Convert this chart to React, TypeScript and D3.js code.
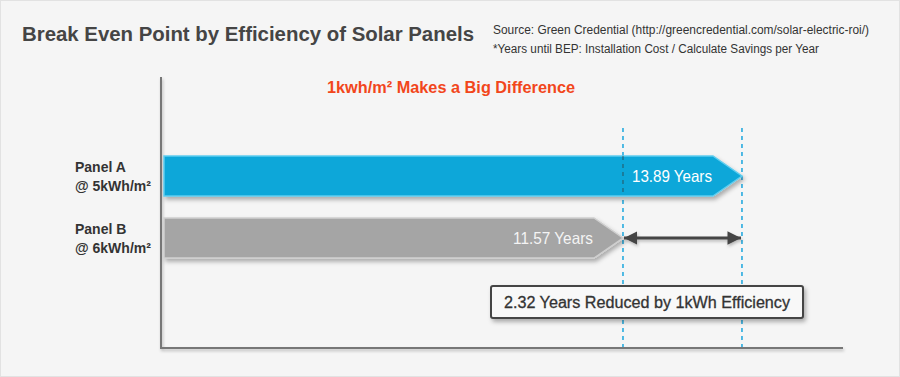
import React from "react";
import * as d3 from "d3";

const panels = ["Panel A", "Panel B"];
const efficiencies = ["@ 5kWh/m²", "@ 6kWh/m²"];
const years = [13.89, 11.57];
const barColors = ["#0ba7d9", "#a5a5a5"];
const barStrokes = ["#5fcdef", "#cfcfcf"];
const labelColors = ["#ffffff", "#f4f4f4"];
const title = "Break Even Point by Efficiency of Solar Panels";
const sourceLines = [
  "Source: Green Credential (http://greencredential.com/solar-electric-roi/)",
  "*Years until BEP: Installation Cost / Calculate Savings per Year",
];
const subtitle = "1kwh/m² Makes a Big Difference";

const W = 900;
const H = 377;

export default function App() {
  const x = d3.scaleLinear().domain([2.62, 15.86]).range([164, 843]);
  const y = d3.scaleBand<string>().domain(panels).range([156, 258]).paddingInner(0.355).paddingOuter(0);
  const bh = y.bandwidth();
  const tip = 29;
  const diff = years[0] - years[1];
  const x0 = x(x.domain()[0]);

  const barPath = (v: number, top: number) => {
    const xe = x(v);
    const p = d3.path();
    p.moveTo(x0, top);
    p.lineTo(xe - tip, top);
    p.lineTo(xe, top + bh / 2);
    p.lineTo(xe - tip, top + bh);
    p.lineTo(x0, top + bh);
    p.closePath();
    return p.toString();
  };

  const xMin = x(years[1]);
  const xMax = x(years[0]);
  const arrowY = (y(panels[1]) ?? 0) + bh / 2;

  return (
    <svg width={W} height={H} style={{ position: "absolute", left: 0, top: 0, fontFamily: "'Liberation Sans', Arial, sans-serif" }}>
      <defs>
        <filter id="sh" filterUnits="userSpaceOnUse" x="0" y="0" width={W} height={H}>
          <feDropShadow dx="2" dy="3" stdDeviation="2" floodColor="#000" floodOpacity="0.3" />
        </filter>
        <filter id="sh2" filterUnits="userSpaceOnUse" x="0" y="0" width={W} height={H}>
          <feDropShadow dx="1" dy="2" stdDeviation="1.5" floodColor="#000" floodOpacity="0.25" />
        </filter>
        <marker id="ah" viewBox="0 0 10 10" refX="10" refY="5" markerWidth="4.5" markerHeight="4.5" orient="auto-start-reverse">
          <path d="M0,0 L10,5 L0,10 z" fill="#444" />
        </marker>
      </defs>
      <rect x={0.5} y={0.5} width={W - 1} height={H - 1} fill="#f5f5f5" stroke="#e2e2e2" />
      <text x={22} y={41} fontSize={20} fontWeight="bold" fill="#454545" textLength={452} lengthAdjust="spacingAndGlyphs">{title}</text>
      {sourceLines.map((s, i) => (
        <text key={i} x={493} y={34 + i * 19} fontSize={12} fill="#333" textLength={i === 0 ? 376 : 326} lengthAdjust="spacingAndGlyphs">{s}</text>
      ))}
      <text x={451} y={93} fontSize={16} fontWeight="bold" fill="#f2461b" textAnchor="middle" textLength={248} lengthAdjust="spacingAndGlyphs">{subtitle}</text>

      {/* axes */}
      <g filter="url(#sh2)">
        <line x1={161} y1={77} x2={161} y2={348} stroke="#777" strokeWidth={2} />
        <line x1={160} y1={348} x2={843} y2={348} stroke="#777" strokeWidth={2} />
      </g>

      {/* dashed reference lines */}
      {[xMin, xMax].map((xx, i) => (
        <line key={i} x1={xx} y1={128} x2={xx} y2={347} stroke="#1aa6de" strokeWidth={1.5} strokeDasharray="4,4" />
      ))}

      {panels.map((p, i) => {
        const top = y(p) ?? 0;
        return (
          <g key={p}>
            <path d={barPath(years[i], top)} fill={barColors[i]} stroke={barStrokes[i]} strokeWidth={1.5} filter="url(#sh)" />
            <text x={x(years[i]) - tip - 1} y={top + bh / 2 + 6} fontSize={16.5} fill={labelColors[i]} textAnchor="end" textLength={80} lengthAdjust="spacingAndGlyphs">{years[i].toFixed(2)} Years</text>
            <text x={75} y={top + 16} fontSize={14} fontWeight="bold" fill="#333">{p}</text>
            <text x={75} y={top + 35} fontSize={14} fontWeight="bold" fill="#333">{efficiencies[i]}</text>
          </g>
        );
      })}
      <line x1={xMin} y1={156} x2={xMin} y2={196} stroke="#333" strokeWidth={1.2} strokeDasharray="4,4" opacity={0.6} />

      {/* double arrow */}
      <g filter="url(#sh2)">
        <line x1={xMin + 1} y1={arrowY} x2={xMax - 1} y2={arrowY} stroke="#444" strokeWidth={3} markerStart="url(#ah)" markerEnd="url(#ah)" />
      </g>

      {/* callout */}
      <g filter="url(#sh)">
        <rect x={491} y={286} width={312} height={32} rx={2} fill="#f8f8f8" stroke="#444" strokeWidth={2} />
      </g>
      <text x={647} y={308} fontSize={16} fill="#333" textAnchor="middle" textLength={286} lengthAdjust="spacingAndGlyphs" stroke="#333" strokeWidth={0.3}>{diff.toFixed(2)} Years Reduced by 1kWh Efficiency</text>
    </svg>
  );
}
